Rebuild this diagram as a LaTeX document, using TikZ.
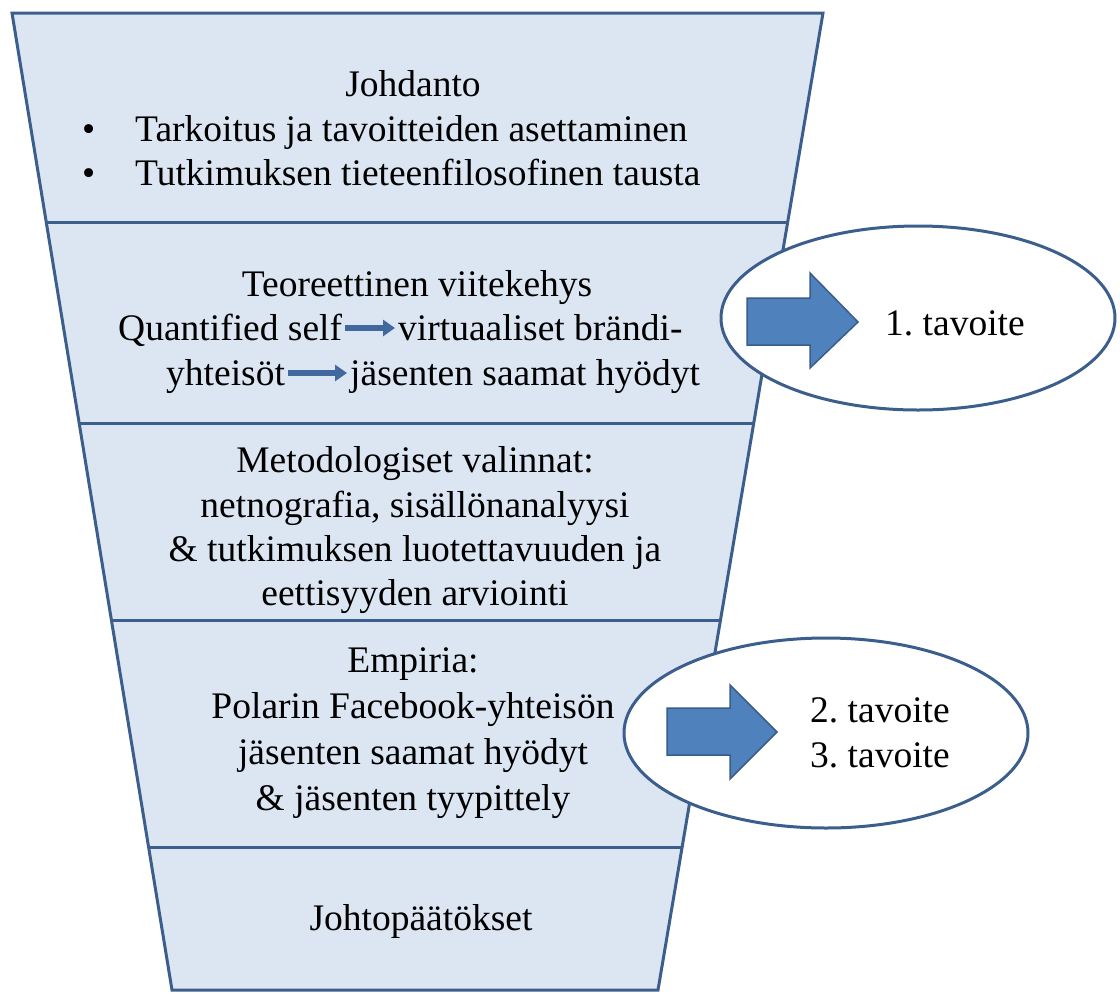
\documentclass[tikz,border=0pt]{standalone}
\usepackage{fontspec}
\setmainfont{Liberation Serif}
\frenchspacing
\usetikzlibrary{calc,shapes.geometric,arrows.meta}
\definecolor{funfill}{HTML}{DCE6F2}
\definecolor{funline}{HTML}{3B5E8C}
\definecolor{arrfill}{HTML}{4F81BD}
\definecolor{arrline}{HTML}{385D8A}
\definecolor{smallarr}{HTML}{41699E}
\tikzset{
  txt/.style={anchor=base, inner sep=0pt, font=\fontsize{37.5}{45}\selectfont},
  txtw/.style={anchor=base west, inner sep=0pt, font=\fontsize{37.5}{45}\selectfont},
  funnel/.style={fill=funfill, draw=funline, line width=3pt, line join=miter},
  divider/.style={draw=funline, line width=3pt},
  goal/.style={ellipse, draw=funline, fill=white, line width=3pt, inner sep=0pt},
  bigarrow/.style={fill=arrfill, draw=arrline, line width=1.5pt, line join=miter},
  smallarrow/.style={draw=smallarr, line width=5.5pt, -{Triangle[length=12pt,width=16pt]}, shorten <=3pt, shorten >=3pt},
}
\begin{document}
\begin{tikzpicture}[x=1pt,y=-1pt]
\useasboundingbox (0,0) rectangle (1120,994);
% funnel outline
\coordinate (tl) at (12,13);
\coordinate (tr) at (823,13);
\coordinate (br) at (658,990);
\coordinate (bl) at (172,990);
\draw[funnel] (tl) -- (tr) -- (br) -- (bl) -- cycle;
\foreach \yy/\nm in {223/a,423/b,621/c,848/d}{
  \pgfmathsetmacro{\ff}{(\yy-13)/977}
  \draw[divider] ($(tl)!\ff!(bl)$) -- ($(tr)!\ff!(br)$);
}
% section 1
\node[txt] (s1t) at (413,96) {Johdanto};
\node[txtw] (b1) at (82,141) {•};
\node[txtw] (s1a) at (135,141) {Tarkoitus ja tavoitteiden asettaminen};
\node[txtw] (b2) at (82,185) {•};
\node[txtw] (s1b) at (135,185) {Tutkimuksen tieteenfilosofinen tausta};
% section 2
\node[txt] (s2t) at (417,296) {Teoreettinen viitekehys};
\node[txtw] (q1) at (118,340) {Quantified self};
\node[txtw] (q2) at (398,340) {virtuaaliset brändi-};
\node[txtw] (y1) at (166,385) {yhteisöt};
\node[txtw] (y2) at (350,385) {jäsenten saamat hyödyt};
\draw[smallarrow] ([yshift=12pt]q1.base east) -- ([yshift=12pt]q2.base west);
\draw[smallarrow] ([yshift=12pt]y1.base east) -- ([yshift=12pt]y2.base west);
% section 3
\node[txt] (s3a) at (415,472) {Metodologiset valinnat:};
\node[txt] (s3b) at (415,517) {netnografia, sisällönanalyysi};
\node[txt] (s3c) at (415,561) {\& tutkimuksen luotettavuuden ja};
\node[txt] (s3d) at (415,605) {eettisyyden arviointi};
% section 4
\node[txt] (s4a) at (413,672) {Empiria:};
\node[txt] (s4b) at (413,718) {Polarin Facebook-yhteisön};
\node[txt] (s4c) at (413,764) {jäsenten saamat hyödyt};
\node[txt] (s4d) at (413,810) {\& jäsenten tyypittely};
% section 5
\node[txt] (s5) at (421,930) {Johtopäätökset};
% goal 1
\node[goal, minimum width=394pt, minimum height=184pt] (g1) at (918,318) {};
\draw[bigarrow] (747,298) -- (810,298) -- (810,273) -- (858,322) -- (810,368) -- (810,345) -- (747,345) -- cycle;
\node[txt] (t1) at (955,335) {1. tavoite};
% goal 2
\node[goal, minimum width=404pt, minimum height=190pt] (g2) at (826,733) {};
\draw[bigarrow] (667,708) -- (730,708) -- (730,685) -- (777,732) -- (730,779) -- (730,755) -- (667,755) -- cycle;
\node[txt] (t2) at (880,722) {2. tavoite};
\node[txt] (t3) at (880,767) {3. tavoite};
\end{tikzpicture}
\end{document}
